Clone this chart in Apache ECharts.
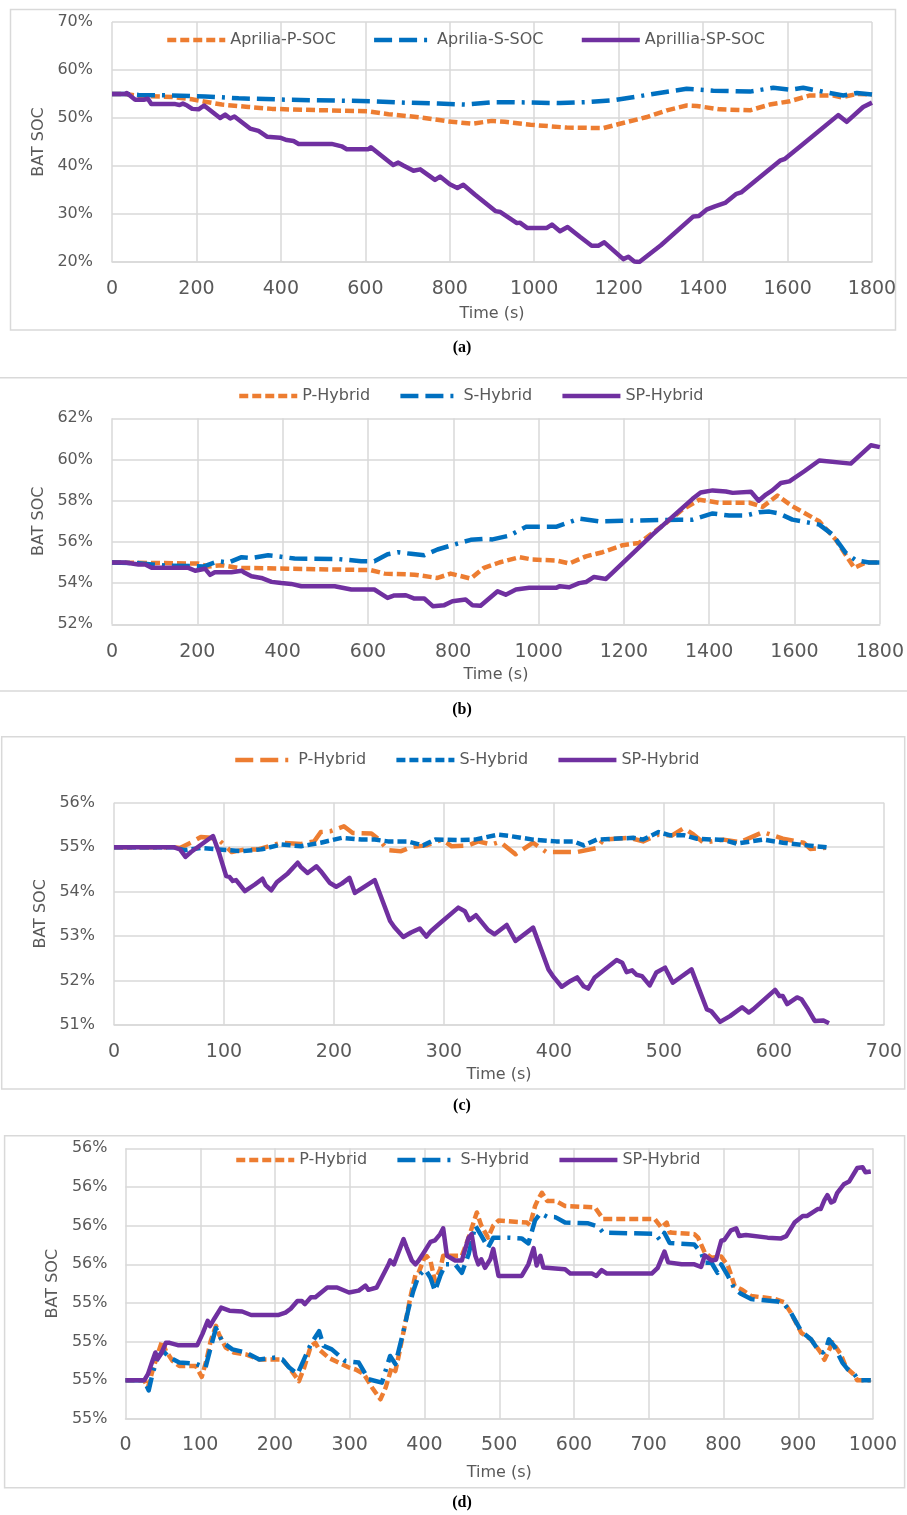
<!DOCTYPE html>
<html><head><meta charset="utf-8">
<script src="https://cdn.jsdelivr.net/npm/echarts@6/dist/echarts.min.js"></script>
<style>
body{margin:0;width:907px;height:1515px;position:relative;background:#fff;overflow:hidden}
.p{position:absolute;left:0;width:907px}
</style></head><body>
<div id="ca" class="p" style="top:0;height:362px"></div>
<div id="cb" class="p" style="top:362px;height:363px"></div>
<div id="cc" class="p" style="top:725px;height:395px"></div>
<div id="cd" class="p" style="top:1120px;height:395px"></div>
<script>
// ---------- Panel (a) ----------
const aNames = ['Aprilia-P-SOC', 'Aprilia-S-SOC', 'Aprillia-SP-SOC'];
const aP = [[0,55.0],[30,55.0],[63,54.6],[142,54.4],[189,53.9],[221,53.4],[260,52.8],[323,52.3],[379,51.9],[457,51.7],[607,51.4],[655,50.8],[733,50.1],[796,49.3],[852,48.8],[900,49.4],[930,49.2],[991,48.6],[1077,48.0],[1164,47.9],[1203,48.8],[1267,50.2],[1314,51.6],[1361,52.6],[1385,52.5],[1440,51.8],[1511,51.6],[1558,52.8],[1606,53.5],[1653,54.7],[1709,54.7],[1728,54.3],[1764,55.0],[1800,54.9]];
const aS = [[0,55.0],[30,55.0],[63,54.8],[142,54.7],[221,54.5],[300,54.1],[418,53.8],[615,53.5],[694,53.2],[773,53.0],[836,52.8],[907,53.3],[951,53.3],[1061,53.1],[1125,53.3],[1188,53.7],[1267,54.8],[1361,56.1],[1424,55.7],[1511,55.5],[1566,56.3],[1606,55.9],[1637,56.3],[1700,55.2],[1732,54.7],[1764,55.2],[1800,54.9]];
const aSP = [[0,55.0],[30,55.0],[35,55.2],[55,53.8],[75,53.8],[85,54.0],[93,52.9],[150,52.9],[160,52.7],[168,53.0],[178,52.6],[190,51.9],[205,51.8],[218,52.6],[256,50.0],[268,50.7],[280,49.9],[290,50.3],[327,47.8],[347,47.3],[367,46.1],[398,45.9],[414,45.4],[430,45.2],[442,44.6],[520,44.6],[544,44.1],[556,43.5],[607,43.5],[613,43.9],[666,40.2],[678,40.7],[690,40.1],[714,39.0],[730,39.3],[765,37.1],[777,37.8],[800,36.2],[818,35.4],[832,36.1],[860,34.0],[908,30.6],[920,30.4],[959,28.1],[966,28.2],[983,27.1],[1030,27.1],[1042,27.8],[1061,26.4],[1079,27.3],[1109,25.2],[1136,23.4],[1152,23.4],[1166,24.1],[1211,20.6],[1223,21.1],[1237,20.1],[1249,20.0],[1300,23.5],[1377,29.5],[1390,29.6],[1408,30.9],[1428,31.6],[1452,32.3],[1479,34.2],[1490,34.5],[1582,41.1],[1594,41.5],[1629,44.0],[1720,50.6],[1740,49.2],[1779,52.3],[1800,53.2]];

// ---------- Panel (b) ----------
const hybNames = ['P-Hybrid', 'S-Hybrid', 'SP-Hybrid'];
const bP = [[0,55.0],[202,54.95],[226,54.8],[257,54.87],[296,54.74],[413,54.7],[607,54.63],[639,54.46],[709,54.41],[763,54.25],[794,54.46],[841,54.22],[872,54.74],[908,55.0],[955,55.26],[986,55.14],[1041,55.1],[1072,54.95],[1111,55.3],[1150,55.5],[1197,55.84],[1236,55.95],[1298,56.9],[1337,57.57],[1377,58.05],[1423,57.9],[1494,57.9],[1525,57.7],[1560,58.25],[1595,57.73],[1658,57.0],[1697,56.1],[1740,54.74],[1767,55.0],[1800,55.0]];
const bS = [[0,55.0],[62,54.97],[125,54.85],[187,54.83],[214,54.8],[249,55.06],[273,55.0],[304,55.26],[327,55.22],[366,55.35],[389,55.3],[428,55.19],[530,55.17],[584,55.06],[615,55.06],[646,55.4],[670,55.5],[701,55.42],[732,55.35],[763,55.63],[810,55.92],[841,56.1],[872,56.15],[892,56.12],[931,56.3],[970,56.73],[1041,56.73],[1064,56.9],[1095,57.13],[1142,57.0],[1330,57.08],[1361,57.08],[1408,57.38],[1447,57.28],[1486,57.28],[1517,57.44],[1541,57.47],[1564,57.38],[1595,57.08],[1658,56.84],[1689,56.36],[1720,55.47],[1744,55.1],[1775,55.0],[1800,55.0]];
const bSP = [[0,55.0],[31,55.0],[62,54.9],[78,54.9],[93,54.74],[179,54.74],[195,54.6],[218,54.7],[230,54.4],[241,54.53],[280,54.53],[304,54.6],[311,54.5],[327,54.33],[350,54.25],[374,54.06],[397,54.0],[420,53.96],[444,53.85],[522,53.85],[561,53.69],[615,53.69],[631,53.48],[646,53.28],[662,53.4],[689,53.41],[709,53.25],[732,53.25],[752,52.88],[779,52.93],[798,53.12],[829,53.2],[845,52.93],[864,52.9],[904,53.6],[923,53.44],[947,53.69],[978,53.77],[1041,53.77],[1050,53.85],[1072,53.8],[1095,54.0],[1111,54.05],[1130,54.3],[1158,54.2],[1173,54.5],[1267,56.35],[1361,58.09],[1380,58.4],[1408,58.5],[1439,58.45],[1455,58.38],[1498,58.43],[1516,58.0],[1533,58.3],[1548,58.5],[1568,58.86],[1588,58.94],[1623,59.43],[1658,59.95],[1732,59.8],[1779,60.69],[1800,60.6]];

// ---------- Panel (c) ----------
const cP = [[0,55.0],[54,55.0],[60,54.98],[72,55.13],[79,55.23],[88,55.21],[96,55.15],[107,54.89],[119,54.95],[131,54.95],[152,55.1],[170,55.07],[182,55.13],[188,55.34],[197,55.36],[209,55.47],[217,55.32],[234,55.31],[241,55.17],[249,54.93],[261,54.91],[270,55.0],[284,55.04],[298,55.17],[307,55.02],[322,55.04],[331,55.13],[343,55.06],[351,55.12],[365,54.84],[381,55.1],[393,54.89],[421,54.89],[439,54.98],[445,55.17],[469,55.21],[481,55.13],[495,55.28],[507,55.26],[518,55.43],[527,55.28],[536,55.1],[554,55.17],[569,55.11],[590,55.34],[608,55.19],[627,55.1],[633,54.96],[650,54.99]];
const cS = [[0,55.0],[54,55.0],[64,54.93],[79,54.98],[95,54.95],[116,54.91],[134,54.95],[152,55.06],[170,55.02],[188,55.1],[207,55.21],[225,55.17],[237,55.17],[249,55.13],[267,55.13],[281,55.04],[292,55.17],[313,55.16],[328,55.17],[349,55.28],[360,55.25],[381,55.17],[402,55.13],[418,55.13],[427,55.04],[439,55.17],[472,55.21],[481,55.17],[495,55.34],[505,55.27],[518,55.27],[530,55.19],[554,55.16],[566,55.08],[590,55.17],[608,55.1],[630,55.04],[650,54.99]];
const cSP = [[0,55.0],[54,55.0],[60,54.95],[65,54.78],[70,54.89],[90,55.25],[95,54.91],[102,54.35],[105,54.33],[108,54.24],[111,54.26],[119,54.01],[128,54.16],[135,54.29],[138,54.14],[143,54.03],[148,54.21],[158,54.41],[167,54.65],[170,54.55],[176,54.42],[184,54.57],[188,54.46],[196,54.2],[202,54.11],[207,54.18],[214,54.31],[219,53.97],[237,54.26],[251,53.34],[255,53.2],[263,52.98],[270,53.08],[278,53.17],[284,52.99],[288,53.11],[295,53.26],[313,53.64],[319,53.56],[323,53.36],[329,53.47],[340,53.14],[346,53.04],[357,53.25],[365,52.89],[381,53.19],[395,52.25],[399,52.1],[407,51.86],[415,51.99],[421,52.07],[427,51.87],[431,51.82],[437,52.07],[457,52.46],[462,52.4],[466,52.19],[471,52.23],[475,52.13],[480,52.1],[487,51.89],[493,52.18],[501,52.29],[508,51.95],[525,52.25],[539,51.35],[543,51.31],[551,51.07],[560,51.2],[571,51.4],[577,51.28],[581,51.35],[601,51.79],[605,51.65],[608,51.65],[612,51.47],[621,51.62],[625,51.58],[630,51.39],[637,51.09],[645,51.1],[650,51.04]];

// ---------- Panel (d) ----------
const dP = [[0,55.2],[25,55.2],[30,55.181],[36,55.224],[43,55.267],[49,55.302],[54,55.276],[63,55.25],[72,55.237],[94,55.237],[102,55.209],[108,55.25],[114,55.302],[121,55.341],[125,55.319],[134,55.285],[145,55.272],[161,55.267],[179,55.254],[210,55.254],[219,55.233],[232,55.198],[239,55.233],[248,55.289],[254,55.297],[259,55.28],[272,55.258],[285,55.246],[299,55.233],[308,55.228],[319,55.216],[330,55.181],[341,55.151],[348,55.181],[356,55.233],[361,55.224],[365,55.259],[374,55.345],[381,55.414],[388,55.474],[392,55.478],[399,55.513],[403,55.521],[408,55.509],[414,55.457],[421,55.487],[425,55.522],[450,55.522],[459,55.569],[470,55.634],[476,55.6],[485,55.569],[492,55.6],[499,55.613],[537,55.608],[541,55.601],[548,55.651],[552,55.668],[557,55.685],[564,55.664],[575,55.664],[588,55.651],[628,55.647],[639,55.617],[708,55.617],[717,55.595],[724,55.608],[728,55.582],[761,55.578],[766,55.569],[775,55.53],[784,55.517],[797,55.52],[806,55.496],[815,55.444],[824,55.435],[837,55.418],[868,55.411],[881,55.402],[890,55.375],[904,55.323],[917,55.306],[930,55.272],[935,55.253],[946,55.298],[957,55.267],[964,55.233],[975,55.214],[979,55.2],[997,55.2]];
const dS = [[0,55.2],[25,55.2],[31,55.174],[36,55.216],[43,55.259],[50,55.276],[59,55.259],[72,55.246],[94,55.243],[107,55.233],[114,55.285],[121,55.335],[130,55.298],[143,55.28],[161,55.272],[179,55.254],[201,55.259],[210,55.254],[219,55.233],[230,55.216],[236,55.242],[248,55.294],[259,55.327],[265,55.289],[276,55.28],[294,55.25],[312,55.246],[325,55.203],[343,55.194],[354,55.263],[361,55.242],[372,55.328],[379,55.388],[385,55.431],[392,55.47],[401,55.487],[408,55.465],[414,55.431],[421,55.47],[428,55.5],[441,55.5],[450,55.478],[459,55.526],[468,55.6],[476,55.574],[485,55.543],[492,55.569],[512,55.569],[530,55.567],[539,55.554],[548,55.614],[555,55.632],[564,55.623],[575,55.622],[588,55.608],[619,55.606],[632,55.598],[639,55.582],[708,55.579],[715,55.563],[721,55.581],[728,55.555],[761,55.551],[770,55.53],[775,55.504],[784,55.504],[792,55.478],[797,55.5],[806,55.47],[815,55.436],[824,55.423],[837,55.41],[872,55.404],[881,55.398],[890,55.375],[904,55.327],[917,55.306],[926,55.28],[933,55.272],[937,55.28],[941,55.306],[948,55.289],[959,55.246],[966,55.229],[975,55.216],[981,55.2],[997,55.2]];
const dSP = [[0,55.2],[25,55.2],[30,55.216],[36,55.25],[40,55.272],[43,55.255],[48,55.27],[54,55.297],[59,55.297],[70,55.291],[96,55.291],[103,55.32],[110,55.354],[113,55.34],[119,55.36],[128,55.388],[139,55.38],[156,55.378],[168,55.369],[205,55.369],[214,55.375],[221,55.385],[230,55.405],[236,55.405],[240,55.397],[248,55.415],[254,55.415],[270,55.44],[283,55.44],[299,55.427],[312,55.432],[321,55.445],[325,55.434],[336,55.44],[352,55.5],[354,55.51],[359,55.5],[372,55.565],[376,55.544],[383,55.51],[388,55.5],[392,55.509],[399,55.53],[408,55.558],[414,55.562],[421,55.578],[425,55.593],[430,55.522],[441,55.51],[450,55.51],[459,55.569],[463,55.578],[468,55.522],[472,55.5],[476,55.513],[481,55.491],[488,55.513],[492,55.54],[496,55.5],[499,55.47],[530,55.47],[539,55.5],[546,55.542],[550,55.497],[555,55.522],[559,55.492],[575,55.489],[588,55.487],[595,55.476],[624,55.476],[630,55.47],[637,55.485],[644,55.476],[704,55.476],[712,55.491],[721,55.533],[726,55.505],[744,55.5],[761,55.5],[770,55.493],[775,55.523],[784,55.51],[790,55.512],[797,55.561],[801,55.563],[810,55.588],[817,55.593],[821,55.573],[830,55.576],[859,55.569],[877,55.567],[884,55.573],[895,55.608],[906,55.625],[912,55.625],[926,55.643],[930,55.643],[935,55.666],[939,55.679],[944,55.66],[948,55.664],[952,55.684],[961,55.707],[968,55.714],[979,55.749],[986,55.751],[990,55.738],[997,55.74]];

const ORANGE = '#ED7D31', BLUE = '#0070C0', PURPLE = '#7030A0';
const SHORT = [9, 4];
const LDD = [18, 7, 18, 7, 3, 7];
const FONT = '"DejaVu Sans", sans-serif';
const TXT = '#595959';
const GRIDC = '#d9d9d9';
const LW = 4.5;

function build(id, cfg) {
  const chart = echarts.init(document.getElementById(id), null, { renderer: 'canvas' });
  const names = cfg.names;
  const defs = [
    { name: names[0], data: cfg.data[0], color: ORANGE, dash: cfg.dash[0], z: 2 },
    { name: names[1], data: cfg.data[1], color: BLUE, dash: cfg.dash[1], z: 3 },
    { name: names[2], data: cfg.data[2], color: PURPLE, dash: 'solid', z: 4 }
  ];
  const series = defs.map(s => ({
    name: s.name, type: 'line', data: s.data, showSymbol: false, symbol: 'none',
    animation: false, z: s.z,
    lineStyle: { color: s.color, width: LW, type: s.dash, cap: 'butt', join: 'round' },
    itemStyle: { color: s.color },
    emphasis: { disabled: true }
  }));
  const lineS = { color: GRIDC, width: 1.5 };
  chart.setOption({
    animation: false,
    legend: {
      left: cfg.legendLeft, top: cfg.legendTop, itemWidth: 58, itemHeight: 14,
      itemGap: cfg.legendGap, padding: 0,
      itemStyle: { opacity: 0 },
      lineStyle: { width: LW },
      textStyle: { color: TXT, fontSize: 16, fontFamily: FONT },
      data: names
    },
    grid: { left: cfg.grid[0], top: cfg.grid[1], width: cfg.grid[2], height: cfg.grid[3] },
    xAxis: {
      type: 'value', min: 0, max: cfg.xMax, interval: cfg.xInt,
      name: 'Time (s)', nameLocation: 'middle', nameGap: cfg.xNameGap,
      nameTextStyle: { color: TXT, fontSize: 16, fontFamily: FONT },
      axisLine: { show: true, lineStyle: lineS }, axisTick: { show: false },
      axisLabel: { margin: cfg.xLabelMargin, fontSize: 19, color: TXT, fontFamily: FONT,
        formatter: v => String(v) },
      splitLine: { show: true, lineStyle: lineS }
    },
    yAxis: {
      type: 'value', min: cfg.yMin, max: cfg.yMax, interval: cfg.yInt,
      name: 'BAT SOC', nameLocation: 'middle', nameGap: cfg.yNameGap,
      nameTextStyle: { color: TXT, fontSize: 16, fontFamily: FONT },
      axisLine: { show: false }, axisTick: { show: false },
      axisLabel: { margin: cfg.yLabelMargin, fontSize: 16, color: TXT, fontFamily: FONT,
        formatter: v => Math.round(v + 1e-9) + '%' },
      splitLine: { show: true, lineStyle: lineS }
    },
    graphic: [
      { type: 'rect', shape: { x: cfg.box[0], y: cfg.box[1], width: cfg.box[2], height: cfg.box[3] },
        style: { fill: 'none', stroke: GRIDC, lineWidth: 1.5 }, silent: true, z: -1 },
      { type: 'text', x: 462, y: cfg.capY,
        style: { text: cfg.cap, font: 'bold 16px "Liberation Serif", serif', fill: '#000',
          textAlign: 'center', textVerticalAlign: 'middle' } }
    ],
    series
  });
}

build('ca', {
  names: aNames, data: [aP, aS, aSP], dash: [SHORT, LDD],
  legendLeft: 165, legendTop: 32, legendGap: 36,
  grid: [112, 22, 760, 240], xMax: 1800, xInt: 200, yMin: 20, yMax: 70, yInt: 10,
  xNameGap: 44, xLabelMargin: 18, yNameGap: 61, yLabelMargin: 19,
  box: [10.5, 9.5, 885, 320.5], cap: '(a)', capY: 348
});
build('cb', {
  names: hybNames, data: [bP, bS, bSP], dash: [SHORT, LDD],
  legendLeft: 237, legendTop: 26, legendGap: 28,
  grid: [112, 56.3, 768, 206], xMax: 1800, xInt: 200, yMin: 52, yMax: 62, yInt: 2,
  xNameGap: 43, xLabelMargin: 18, yNameGap: 62, yLabelMargin: 19,
  box: [-2, 15.7, 911, 313.3], cap: '(b)', capY: 348
});
build('cc', {
  names: hybNames, data: [cP, cS, cSP], dash: [LDD, SHORT],
  legendLeft: 233, legendTop: 27, legendGap: 28,
  grid: [114, 77.7, 770, 222.3], xMax: 700, xInt: 100, yMin: 51, yMax: 56, yInt: 1,
  xNameGap: 41, xLabelMargin: 18, yNameGap: 62, yLabelMargin: 19,
  box: [1.7, 11.7, 903, 352.3], cap: '(c)', capY: 381
});
build('cd', {
  names: hybNames, data: [dP, dS, dSP], dash: [SHORT, LDD],
  legendLeft: 234, legendTop: 32, legendGap: 28,
  grid: [125.5, 28.3, 747.5, 270.7], xMax: 1000, xInt: 100, yMin: 55.1, yMax: 55.8, yInt: 0.1,
  xNameGap: 46, xLabelMargin: 17, yNameGap: 61, yLabelMargin: 18,
  box: [4.6, 15.7, 900, 352], cap: '(d)', capY: 383
});
</script>
</body></html>
